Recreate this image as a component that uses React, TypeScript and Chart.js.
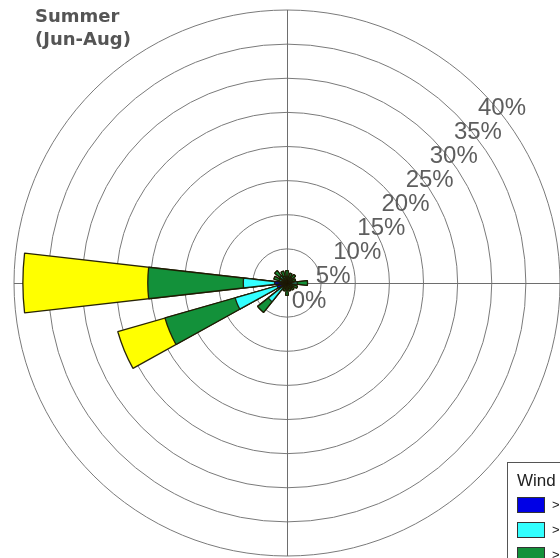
import React, { useEffect, useRef } from "react";
import Chart from "chart.js/auto";

const directions = ["N", "NNE", "NE", "ENE", "E", "ESE", "SE", "SSE", "S", "SSW", "SW", "WSW", "W", "WNW", "NW", "NNW"];
// frequency (%) of each wind-speed class per direction
const blueClass = [0.4, 0.4, 0.4, 0.4, 0.6, 0.4, 0.4, 0.3, 0.4, 0.3, 0.8, 1.5, 1.8, 0.5, 0.5, 0.4];
const cyanClass = [0.5, 0.5, 0.5, 0.4, 0.9, 0.5, 0.4, 0.4, 0.6, 0.4, 2.7, 6.4, 4.6, 0.7, 0.8, 0.6];
const greenClass = [0.9, 0.6, 0.7, 0.5, 1.5, 0.7, 0.5, 0.5, 0.8, 0.5, 2.0, 10.7, 14.0, 0.8, 1.0, 0.8];
const yellowClass = [0, 0, 0, 0, 0, 0, 0, 0, 0, 0, 0, 7.2, 18.3, 0, 0, 0];
const ringTicks = [0, 5, 10, 15, 20, 25, 30, 35, 40];
const titleLines = ["Summer", "(Jun-Aug)"];
const legendTitle = "Wind Speed (m/s)";
const classLabels = ["> 0.5 - 2.1", "> 2.1 - 3.6", "> 3.6 - 5.7", "> 5.7"];
const classColors = ["#0000e6", "#33ffff", "#13913a", "#ffff00"];

const BAR_DEG = 13;
const GAP_DEG = 22.5 - BAR_DEG;

export default function App() {
  const ref = useRef<HTMLCanvasElement | null>(null);
  useEffect(() => {
    const canvas = ref.current;
    if (!canvas) return;
    const classes = [blueClass, cyanClass, greenClass, yellowClass];
    const cumulative: number[][] = [];
    let running = directions.map(() => 0);
    classes.forEach((arr) => {
      running = running.map((v, i) => v + arr[i]);
      cumulative.push(running.slice());
    });
    const labels: string[] = [];
    directions.forEach((d) => {
      labels.push(d);
      labels.push("");
    });
    const toSlots = (vals: number[]) => {
      const out: number[] = [];
      vals.forEach((v) => {
        out.push(v);
        out.push(0);
      });
      return out;
    };
    const datasets = cumulative.map((vals, ci) => ({
      label: classLabels[ci],
      data: toSlots(vals),
      angle: (ctx: any) => (ctx.dataIndex % 2 === 0 ? BAR_DEG : GAP_DEG),
      backgroundColor: (ctx: any) => (ctx.dataIndex % 2 === 0 ? classColors[ci] : "rgba(0,0,0,0)"),
      borderColor: (ctx: any) => (ctx.dataIndex % 2 === 0 ? "rgba(30,25,0,0.95)" : "rgba(0,0,0,0)"),
      borderWidth: (ctx: any) => (ctx.dataIndex % 2 === 0 ? 1.3 : 0),
    }));

    const decor = {
      id: "decor",
      beforeDatasetsDraw(chart: any) {
        const s = chart.scales.r;
        const ctx = chart.ctx;
        const cx = s.xCenter;
        const cy = s.yCenter;
        const R = s.drawingArea;
        ctx.save();
        ctx.strokeStyle = "#6e6e6e";
        ctx.lineWidth = 1;
        ctx.beginPath();
        ctx.moveTo(cx + 0.5, cy - R);
        ctx.lineTo(cx + 0.5, cy + R);
        ctx.moveTo(cx - R, cy + 0.5);
        ctx.lineTo(cx + R, cy + 0.5);
        ctx.stroke();
        ctx.restore();
      },
      afterDatasetsDraw(chart: any) {
        const s = chart.scales.r;
        const ctx = chart.ctx;
        const cx = s.xCenter;
        const cy = s.yCenter;
        ctx.save();
        ctx.fillStyle = "#5e5e5e";
        ctx.font = "24px 'Liberation Sans', Arial, sans-serif";
        ctx.textAlign = "center";
        ctx.textBaseline = "middle";
        ringTicks.forEach((v) => {
          const r = s.getDistanceFromCenterForValue(v);
          ctx.fillText(v + "%", cx + r * Math.SQRT1_2 + 22, cy - r * Math.SQRT1_2 + 18);
        });
        ctx.fillStyle = "#555555";
        ctx.font = "bold 18px 'DejaVu Sans', sans-serif";
        ctx.textAlign = "left";
        ctx.textBaseline = "alphabetic";
        titleLines.forEach((t, i) => ctx.fillText(t, 35, 22 + i * 23));
        ctx.fillStyle = "#ffffff";
        ctx.fillRect(507.5, 462.5, 80, 120);
        ctx.strokeStyle = "#555555";
        ctx.lineWidth = 1;
        ctx.strokeRect(507.5, 462.5, 80, 120);
        ctx.fillStyle = "#222222";
        ctx.font = "17px 'Liberation Sans', Arial, sans-serif";
        ctx.fillText(legendTitle, 517, 486);
        classLabels.forEach((lab, i) => {
          const y = 497 + i * 25;
          ctx.fillStyle = classColors[i];
          ctx.fillRect(517, y, 28, 16);
          ctx.strokeStyle = "#333333";
          ctx.strokeRect(517.5, y + 0.5, 27, 15);
          ctx.fillStyle = "#222222";
          ctx.font = "13px 'Liberation Sans', Arial, sans-serif";
          ctx.fillText(lab, 552, y + 12);
        });
        ctx.restore();
      },
    };

    const chart = new Chart(canvas, {
      type: "polarArea",
      data: { labels, datasets: datasets as any },
      options: {
        responsive: false,
        animation: false,
        layout: { padding: { left: 14, top: 10, right: 0, bottom: 2 } },
        plugins: { legend: { display: false }, tooltip: { enabled: false } },
        scales: {
          r: {
            min: 0,
            max: 40,
            startAngle: -BAR_DEG / 2,
            ticks: { display: false, stepSize: 5 },
            grid: { circular: true, color: "#7a7a7a", lineWidth: 1 },
            angleLines: { display: false },
            pointLabels: { display: false },
          },
        },
      } as any,
      plugins: [decor],
    });
    return () => chart.destroy();
  }, []);
  return (
    <div style={{ position: "absolute", left: 0, top: 0, width: 560, height: 558, background: "#fff" }}>
      <canvas ref={ref} width={560} height={558} style={{ width: 560, height: 558, display: "block" }} />
    </div>
  );
}
